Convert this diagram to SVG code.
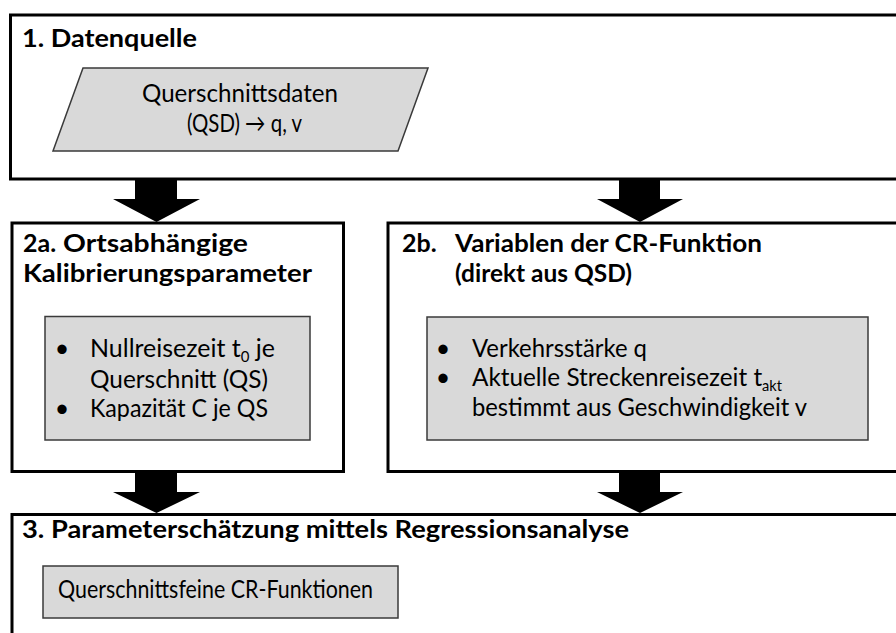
<svg xmlns="http://www.w3.org/2000/svg" width="896" height="633" viewBox="0 0 896 633">
<style>
.box{fill:#ffffff;stroke:#000000;stroke-width:3}
.inner{fill:#d9d9d9;stroke:#3a3a3a;stroke-width:1.5}
.arrow{fill:#000000;stroke:none}
text{font-family:Lato,"Open Sans","Liberation Sans",sans-serif;font-size:25px;fill:#000000}
.t{font-weight:bold}
.sub{font-size:15px}
</style>
<rect width="896" height="633" fill="#ffffff"/>
<g id="connectors">
<polygon class="arrow" points="135,180 177,180 177,199 200,199 156.5,222 113,199 135,199"/>
<polygon class="arrow" points="619,180 660,180 660,199 683,199 640,222 597,199 619,199"/>
<polygon class="arrow" points="135,472 177,472 177,492 200,492 156.5,513 113,492 135,492"/>
<polygon class="arrow" points="619,472 660,472 660,492 683,492 640,513 597,492 619,492"/>
</g>
<g id="node-1">
<rect class="box" x="10.5" y="15" width="900" height="164"/>
<text class="t" x="22" y="47" textLength="175" lengthAdjust="spacingAndGlyphs">1. Datenquelle</text>
<polygon class="inner" points="83,68 428,68 398,151 53,151"/>
<text x="142" y="102" textLength="196" lengthAdjust="spacingAndGlyphs">Querschnittsdaten</text>
<text x="187" y="132" textLength="115" lengthAdjust="spacingAndGlyphs">(QSD) → q, v</text>
</g>
<g id="node-2a">
<rect class="box" x="12" y="223" width="331.5" height="248.5"/>
<text class="t" y="252"><tspan x="23">2a.</tspan><tspan x="63" textLength="185" lengthAdjust="spacingAndGlyphs">Ortsabhängige</tspan></text>
<text class="t" x="23" y="282" textLength="289" lengthAdjust="spacingAndGlyphs">Kalibrierungsparameter</text>
<rect class="inner" x="45" y="316.5" width="265" height="123.5"/>
<text x="62" y="357" text-anchor="middle">•</text>
<text x="62" y="417" text-anchor="middle">•</text>
<text x="90" y="357" textLength="185" lengthAdjust="spacingAndGlyphs">Nullreisezeit t<tspan class="sub" dy="5">0</tspan><tspan dy="-5"> je</tspan></text>
<text x="90" y="388" textLength="178" lengthAdjust="spacingAndGlyphs">Querschnitt (QS)</text>
<text x="90" y="417" textLength="178" lengthAdjust="spacingAndGlyphs">Kapazität C je QS</text>
</g>
<g id="node-2b">
<rect class="box" x="388" y="223" width="520" height="248.5"/>
<text class="t" y="252"><tspan x="402">2b.</tspan><tspan x="455" textLength="307" lengthAdjust="spacingAndGlyphs">Variablen der CR-Funktion</tspan></text>
<text class="t" x="455" y="282" textLength="177" lengthAdjust="spacingAndGlyphs">(direkt aus QSD)</text>
<rect class="inner" x="427" y="317" width="441" height="123"/>
<text x="443" y="357" text-anchor="middle">•</text>
<text x="443" y="386" text-anchor="middle">•</text>
<text x="472" y="357" textLength="175" lengthAdjust="spacingAndGlyphs">Verkehrsstärke q</text>
<text x="472" y="386" textLength="310" lengthAdjust="spacingAndGlyphs">Aktuelle Streckenreisezeit t<tspan class="sub" dy="5">akt</tspan></text>
<text x="472" y="416" textLength="335" lengthAdjust="spacingAndGlyphs">bestimmt aus Geschwindigkeit v</text>
</g>
<g id="node-3">
<rect class="box" x="12" y="514.5" width="900" height="140"/>
<text class="t" x="22" y="538" textLength="607" lengthAdjust="spacingAndGlyphs">3. Parameterschätzung mittels Regressionsanalyse</text>
<rect class="inner" x="43" y="566" width="355" height="52"/>
<text x="58" y="598" textLength="315" lengthAdjust="spacingAndGlyphs">Querschnittsfeine CR-Funktionen</text>
</g>
</svg>
